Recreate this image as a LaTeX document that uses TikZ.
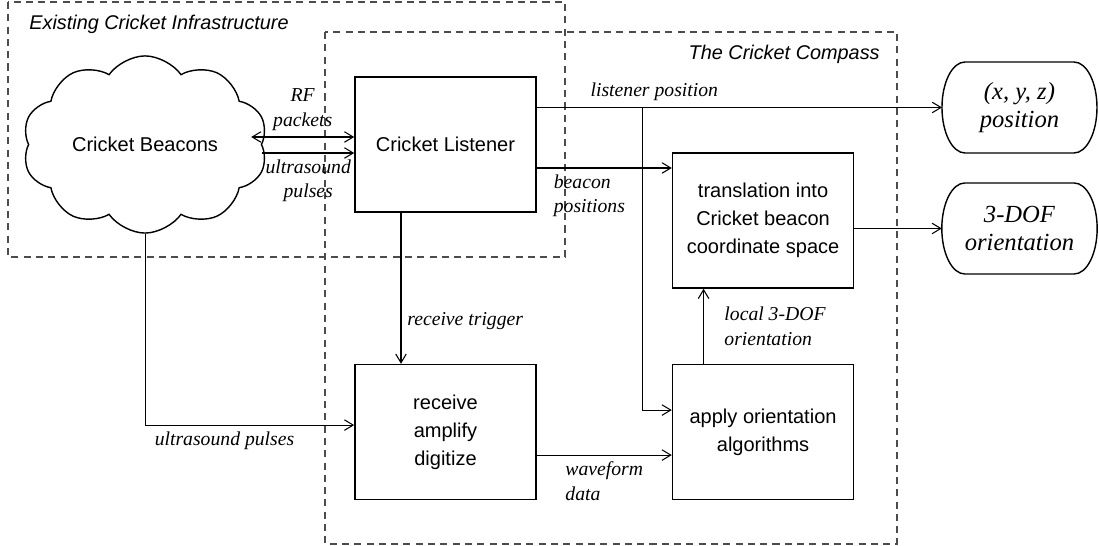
\documentclass[tikz,border=0pt]{standalone}
\usepackage{fontspec}
\setmainfont{Liberation Serif}
\setsansfont{Liberation Sans}
\usepackage{tikz}
\usetikzlibrary{positioning, arrows.meta, shapes.symbols, calc}

\begin{document}
\begin{tikzpicture}[
                >={Straight Barb[length=5pt, width=6pt]},
                block/.style={draw=black, line width=0.9pt, rectangle, minimum width=3.62cm, minimum height=2.7cm, align=center, font=\sffamily\fontsize{11.4}{15.9}\selectfont},
                beacons/.style={draw=black, line width=0.8pt, cloud, cloud puffs=10, cloud puff arc=110, aspect=1.5, minimum width=4.9cm, minimum height=3.1cm, font=\sffamily\fontsize{11.4}{15.9}\selectfont},
                outlabel/.style={rectangle, minimum width=2.18cm, minimum height=1.82cm, inner sep=0pt, outer sep=0pt, align=center, font=\itshape\fontsize{14}{15.5}\selectfont},
                outline/.style={line width=0.8pt},
                link/.style={line width=0.6pt},
                varlabel/.style={font=\itshape\fontsize{11.2}{14.2}\selectfont},
                frame/.style={draw=black!70, line width=0.6pt, dash pattern=on 4pt off 3pt},
                frametitle/.style={font=\sffamily\itshape\fontsize{11.3}{13}\selectfont, inner sep=0pt}
            ]
            \useasboundingbox (-8.91,2.89) rectangle (13.07,-8.03);

            % Rahmen
            \draw[frame] (-8.75,2.85) rectangle (2.39,-2.25);
            \draw[frame] (-2.41,2.25) rectangle (9.03,-7.99);
            \node[frametitle, anchor=base west] (exist) at (-8.33,2.3) {Existing Cricket Infrastructure};
            \node[frametitle, anchor=base east] (compass) at (8.69,1.7) {The Cricket Compass};

            % Knoten
            \node[block] (lst) {Cricket Listener};
            \node[beacons, left=1.84cm of lst] (bcn) {Cricket Beacons};
            \node[block, below=3.02cm of lst] (rcv) {receive\\amplify\\digitize};
            \node[block, right=2.7cm of rcv] (apl) {apply orientation\\algorithms};
            \node[block, above=1.5cm of apl] (trs) {translation into\\Cricket beacon\\coordinate space};
            \node[outlabel] (pos) at (11.48,0.74) {(x, y, z)\\position};
            \node[outlabel, below=0.6cm of pos] (ori) {3-DOF\\orientation};
            \draw[outline] (pos.north west) arc[start angle=90, end angle=270, x radius=0.46cm, y radius=0.91cm] -- (pos.south east) arc[start angle=-90, end angle=90, x radius=0.46cm, y radius=0.91cm] -- cycle;
            \draw[outline] (ori.north west) arc[start angle=90, end angle=270, x radius=0.46cm, y radius=0.91cm] -- (ori.south east) arc[start angle=-90, end angle=90, x radius=0.46cm, y radius=0.91cm] -- cycle;

            % Kanten zwischen Knoten
            \draw[link, <->] ([xshift=-0.22cm, yshift=0.15cm]bcn.east) -- ([yshift=0.15cm]lst.west) node[midway, above, varlabel, align=center] {RF\\packets};
            \draw[link, ->] ([yshift=-0.17cm]bcn.east) -- ([yshift=-0.17cm]lst.west) node[midway, below, varlabel, align=center] {ultrasound\\pulses};
            \draw[link, ->] (lst.east |- pos.west) -- ([xshift=-0.46cm]pos.west) node[pos=0.29, above, varlabel] {listener position} coordinate[pos=0.261] (split);
            \draw[link, ->] (split) |- ([yshift=0.44cm]apl.west);
            \draw[link, ->] ([yshift=-0.47cm]lst.east) -- ([yshift=-0.47cm]lst.east -| trs.west) node[pos=0.39, below, varlabel, align=left] {beacon\\positions};
            \draw[link, ->] (trs.east |- ori.west) -- ([xshift=-0.46cm]ori.west);
            \draw[link, ->] ([xshift=-1.19cm]apl.north) -- ([xshift=-1.19cm]trs.south) node[midway, right=0.29cm, varlabel, align=left] {local 3-DOF\\orientation};
            \draw[link, ->] ([xshift=-0.89cm]lst.south) -- ([xshift=-0.89cm]lst.south |- rcv.north) node[pos=0.72, right, varlabel] {receive trigger};
            \draw[link, ->] ([yshift=-0.46cm]rcv.east) -- ([yshift=-0.46cm]rcv.east -| apl.west) node[midway, below, varlabel, align=left] {waveform\\data};
            \draw[link, ->] (bcn.south) |- ([yshift=0.14cm]rcv.west) node[pos=0.69, below, varlabel] {ultrasound pulses};

        \end{tikzpicture}
\end{document}
